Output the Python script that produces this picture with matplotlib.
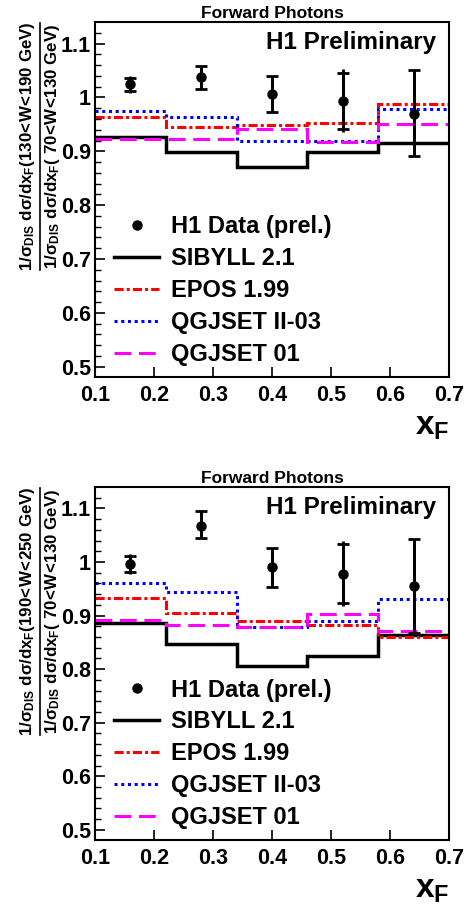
import numpy as np
import matplotlib
matplotlib.use("Agg")
from matplotlib import pyplot as plt
from matplotlib.lines import Line2D

plt.rcParams['font.family'] = ['Liberation Sans', 'DejaVu Sans']
plt.rcParams['font.weight'] = 'bold'
plt.rcParams['mathtext.fontset'] = 'custom'
plt.rcParams['mathtext.rm'] = 'Liberation Sans:bold'
plt.rcParams['mathtext.it'] = 'Liberation Sans:bold'
plt.rcParams['mathtext.bf'] = 'Liberation Sans:bold'
plt.rcParams['mathtext.sf'] = 'Liberation Sans:bold'

# binning in x_F
edges = [0.1, 0.22, 0.34, 0.46, 0.58, 0.7]
x_pts = [0.16, 0.28, 0.40, 0.52, 0.64]

# top panel: 130<W<190 GeV over 70<W<130 GeV
data_top = [1.024, 1.038, 1.007, 0.993, 0.970]
stat_up_top = [0.012, 0.021, 0.033, 0.053, 0.080]
stat_dn_top = [0.012, 0.023, 0.034, 0.051, 0.079]
tot_up_top = [0.016, 0.021, 0.033, 0.059, 0.080]
tot_dn_top = [0.016, 0.023, 0.034, 0.058, 0.079]
sibyll_top = [0.927, 0.899, 0.870, 0.898, 0.916]
epos_top = [0.964, 0.946, 0.948, 0.953, 0.987]
qgs2_top = [0.974, 0.964, 0.919, 0.920, 0.978]
qgs1_top = [0.922, 0.922, 0.942, 0.917, 0.951]

# bottom panel: 190<W<250 GeV over 70<W<130 GeV
data_bot = [0.996, 1.068, 0.990, 0.978, 0.955]
stat_up_bot = [0.015, 0.027, 0.036, 0.056, 0.087]
stat_dn_bot = [0.015, 0.023, 0.037, 0.055, 0.087]
tot_up_bot = [0.019, 0.027, 0.036, 0.062, 0.087]
tot_dn_bot = [0.019, 0.023, 0.037, 0.061, 0.087]
sibyll_bot = [0.887, 0.847, 0.806, 0.825, 0.864]
epos_bot = [0.933, 0.904, 0.890, 0.883, 0.860]
qgs2_bot = [0.960, 0.944, 0.879, 0.890, 0.930]
qgs1_bot = [0.891, 0.883, 0.879, 0.902, 0.872]

labels = ["H1 Data (prel.)", "SIBYLL 2.1", "EPOS 1.99", "QGJSET II-03", "QGJSET 01"]
W_num_top = "130<W<190"
W_num_bot = "190<W<250"

ls_epos = (0, (3, 1, 1, 1))
ls_q2 = (0, (1, 1.2))
ls_q1 = (0, (5.5, 2.5))


def lt(s):
    # tighter "<" inside mathtext
    return s.replace("<", r"\!<\!")


def draw_panel(ax, data, s_up, s_dn, t_up, t_dn, sib, epo, q2, q1, wnum):
    lw = 2.2
    ax.stairs(sib, edges, color='black', lw=lw + 0.3, baseline=None)
    ax.stairs(epo, edges, color='red', lw=lw, baseline=None, linestyle=ls_epos)
    ax.stairs(q2, edges, color='blue', lw=lw, baseline=None, linestyle=ls_q2)
    ax.stairs(q1, edges, color='magenta', lw=lw, baseline=None, linestyle=ls_q1)
    x = np.array(x_pts)
    d = np.array(data)
    ax.vlines(x, d - np.array(t_dn), d + np.array(t_up), color='black', lw=2)
    ax.errorbar(x, d, yerr=[s_dn, s_up], fmt='o', color='black',
                ms=6.5, lw=2, capsize=4, capthick=2)

    ax.set_xlim(0.1, 0.7)
    ax.set_ylim(0.481, 1.14)
    ax.set_xticks([0.1, 0.2, 0.3, 0.4, 0.5, 0.6, 0.7])
    ax.set_xticklabels(["0.1", "0.2", "0.3", "0.4", "0.5", "0.6", "0.7"])
    ax.set_yticks([0.5, 0.6, 0.7, 0.8, 0.9, 1.0, 1.1])
    ax.set_yticklabels(["0.5", "0.6", "0.7", "0.8", "0.9", "1", "1.1"])
    ax.set_yticks(np.arange(0.5, 1.14, 0.02), minor=True)
    ax.tick_params(axis='both', which='major', direction='in', labelsize=15.5,
                   length=7, width=1.2, top=False, right=False)
    ax.tick_params(axis='y', which='minor', direction='in', length=4, width=1.0)
    ax.tick_params(axis='x', which='major', pad=6)
    ax.tick_params(axis='y', which='major', pad=3)
    for sp in ax.spines.values():
        sp.set_linewidth(1.5)

    ax.set_title("Forward Photons", fontsize=12.5, fontweight='bold', pad=3)
    ax.text(0.965, 0.975, "H1 Preliminary", transform=ax.transAxes,
            ha='right', va='top', fontsize=17.5, fontweight='bold')
    ax.text(1.0, -0.14, r"$x_{F}$", transform=ax.transAxes, ha='right',
            va='center', fontsize=24)

    handles = [Line2D([], [], marker='o', ls='none', color='black', ms=6.5),
               Line2D([], [], color='black', lw=2.5),
               Line2D([], [], color='red', lw=2.2, linestyle=ls_epos),
               Line2D([], [], color='blue', lw=2.2, linestyle=ls_q2),
               Line2D([], [], color='magenta', lw=2.2, linestyle=ls_q1)]
    ax.legend(handles, labels, loc='lower left', bbox_to_anchor=(0.055, 0.03),
              frameon=False, fontsize=17, handlelength=1.9, handletextpad=0.5,
              labelspacing=0.38, borderpad=0, borderaxespad=0)

    # ratio axis title drawn as a fraction
    pos = ax.get_position()
    fig = ax.figure
    top = pos.y1
    length = 248 / 913
    yc = top - length / 2
    num = r"$1/\sigma_{DIS}\ d\sigma/dx_{F}(" + lt(wnum) + r"\ GeV)$"
    den = r"$1/\sigma_{DIS}\ d\sigma/dx_{F}(\ " + lt("70<W<130") + r"\ GeV)$"
    fig.text(27.5 / 467, yc, num, rotation=90, ha='center', va='center', fontsize=12.2)
    fig.text(53 / 467, yc, den, rotation=90, ha='center', va='center', fontsize=12.2)
    fig.add_artist(Line2D([40 / 467, 40 / 467], [top - length, top - 0.001],
                          transform=fig.transFigure, color='black', lw=1.2))


fig = plt.figure(figsize=(4.67, 9.13), dpi=100)
ax1 = fig.add_axes([95 / 467, 1 - 377 / 913, 354 / 467, 355 / 913])
ax2 = fig.add_axes([95 / 467, 1 - 840 / 913, 354 / 467, 353 / 913])

draw_panel(ax1, data_top, stat_up_top, stat_dn_top, tot_up_top, tot_dn_top,
           sibyll_top, epos_top, qgs2_top, qgs1_top, W_num_top)
draw_panel(ax2, data_bot, stat_up_bot, stat_dn_bot, tot_up_bot, tot_dn_bot,
           sibyll_bot, epos_bot, qgs2_bot, qgs1_bot, W_num_bot)

plt.savefig("out.png", dpi=100)
